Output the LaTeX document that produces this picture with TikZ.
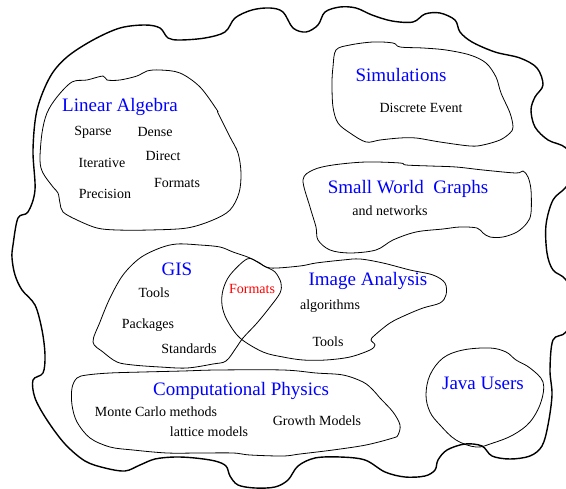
\documentclass[tikz,border=0pt]{standalone}
\usepackage{fontspec}
\setmainfont{Liberation Serif}
\begin{document}
\begin{tikzpicture}[x=1pt,y=-1pt,
	title/.style = {text=blue, inner sep=0pt, font=\fontsize{19}{22}\selectfont},
	item/.style = {text=black, inner sep=0pt, font=\fontsize{14}{17}\selectfont},
	shared/.style = {text=red, inner sep=0pt, font=\fontsize{14}{17}\selectfont},
	outer/.style = {line width=1.4pt, line join=round},
	group/.style = {line width=0.8pt, line join=round}]
	\useasboundingbox (0,0) rectangle (566,489);
	\clip (0,0) rectangle (566,489);
	% the whole area
	\draw[outer] plot[smooth cycle, tension=0.55] coordinates {
		(13,245) (18,218) (28,212) (35,190) (33,150) (37,110) (50,77) (67,57) (93,40)
		(120,28) (145,25) (160,28) (168,38) (180,40) (205,38) (225,32) (235,18) (252,10)
		(270,8) (283,12) (293,28) (306,32) (318,25) (325,12) (340,7) (356,8) (372,15)
		(392,21) (413,22) (425,14) (440,13) (455,20) (460,32) (472,42) (495,52) (520,58)
		(537,68) (543,85) (535,97) (531,110) (535,127) (548,140) (566,148) (576,168)
		(566,187) (553,200) (546,225) (547,253) (553,270) (566,280) (576,306) (566,332)
		(553,340) (550,370) (552,395) (548,425) (542,446) (530,456) (510,459) (492,456)
		(482,446) (465,444) (447,450) (438,460) (435,470) (425,476) (405,477) (385,472)
		(365,460) (340,457) (315,458) (298,466) (288,480) (275,487) (255,488) (238,485)
		(230,476) (226,466) (215,461) (195,458) (175,457) (155,459) (140,465) (125,471)
		(105,468) (85,461) (65,444) (47,420) (35,398) (33,380) (43,373) (45,355) (42,330)
		(35,305) (22,290) (15,275) (12,258)};
	% groups
	\draw[group] plot[smooth cycle, tension=0.55] coordinates {
		(72,82) (87,80) (103,76) (107,80) (120,80) (137,76) (147,71) (160,70) (180,73)
		(200,87) (217,110) (218,113) (230,137) (238,153) (241,173) (239,193) (230,210)
		(213,220) (187,228) (150,230) (117,230) (97,228) (77,220) (63,212) (60,203)
		(58,193) (53,187) (43,173) (40,160) (42,133) (47,113) (57,97)};
	\draw[group] plot[smooth cycle, tension=0.55] coordinates {
		(336,50) (350,45) (373,42) (393,43) (400,47) (423,48) (446,50) (470,55) (486,63)
		(496,77) (501,93) (510,113) (513,127) (510,133) (500,140) (483,145) (470,146)
		(440,142) (416,138) (400,138) (380,140) (366,142) (350,133) (338,123) (333,107)
		(332,83) (333,67)};
	\draw[group] plot[smooth cycle, tension=0.55] coordinates {
		(303,180) (313,170) (333,165) (366,162) (400,163) (406,165) (430,166) (456,167)
		(483,170) (516,173) (523,171) (528,177) (531,190) (531,213) (527,223) (517,232)
		(503,237) (490,237) (483,233) (477,228) (460,227) (443,229) (416,232) (393,240)
		(376,250) (350,253) (330,250) (318,240) (316,227) (310,207)};
	\draw[group] plot[smooth cycle, tension=0.55] coordinates {
		(93,342) (100,322) (110,298) (123,275) (140,258) (160,248) (177,244) (200,245)
		(220,247) (233,252) (250,258) (264,266) (275,272) (281,283) (280,293) (270,307)
		(257,323) (243,338) (236,348) (226,361) (213,364) (187,368) (160,367) (133,365)
		(117,362) (103,352)};
	\draw[group] plot[smooth cycle, tension=0.55] coordinates {
		(247,259) (258,262) (270,268) (300,266) (316,263) (343,260) (360,259) (383,263)
		(410,270) (433,275) (445,283) (446,295) (440,303) (423,308) (406,315) (390,323)
		(375,335) (371,340) (375,345) (370,350) (350,357) (326,360) (303,360) (283,357)
		(263,352) (240,338) (227,320) (222,305) (223,290) (230,275)};
	\draw[group] plot[smooth cycle, tension=0.55] coordinates {
		(72,388) (77,378) (87,375) (110,373) (143,372) (183,371) (217,370) (283,370)
		(316,373) (343,375) (363,382) (373,390) (380,398) (393,412) (400,425) (398,435)
		(393,438) (366,445) (333,450) (300,454) (283,456) (250,455) (233,453) (200,453)
		(167,453) (133,450) (110,447) (90,438) (77,422) (72,405)};
	\draw[group] plot[smooth cycle, tension=0.6] coordinates {
		(426,395) (430,375) (443,358) (463,350) (490,348) (506,352) (516,360) (530,368)
		(543,382) (541,402) (530,422) (513,435) (493,443) (476,447) (456,440) (440,425)
		(430,412)};
	% labels
	\node (LinAlg)	at (120,107)	[title]	{Linear Algebra};
	\node (Sparse)	at ( 93,132)	[item]	{Sparse};
	\node (Dense)	at (155,132)	[item]	{Dense};
	\node (Iter)	at (102,163)	[item]	{Iterative};
	\node (Direct)	at (163,156)	[item]	{Direct};
	\node (LAFmt)	at (177,183)	[item]	{Formats};
	\node (Prec)	at (105,194)	[item]	{Precision};
	\node (Sim)	at (401,75)	[title]	{Simulations};
	\node (Discr)	at (421,108)	[item]	{Discrete Event};
	\node (SWG)	at (408,189)	[title]	{Small World\ \ Graphs};
	\node (Netw)	at (390,211)	[item]	{and networks};
	\node (GIS)	at (177,269)	[title]	{GIS};
	\node (GISTools)	at (154,293)	[item]	{Tools};
	\node (Pack)	at (148,325)	[item]	{Packages};
	\node (Stds)	at (189,349)	[item]	{Standards};
	\node (Fmt)	at (252,289)	[shared]	{Formats};
	\node (ImgAn)	at (368,281)	[title]	{Image Analysis};
	\node (Algo)	at (330,306)	[item]	{algorithms};
	\node (IATools)	at (328,342)	[item]	{Tools};
	\node (CompPh)	at (241,391)	[title]	{Computational Physics};
	\node (MC)	at (156,412)	[item]	{Monte Carlo methods};
	\node (Latt)	at (209,432)	[item]	{lattice models};
	\node (Growth)	at (317,421)	[item]	{Growth Models};
	\node (Java)	at (483,383)	[title]	{Java Users};
\end{tikzpicture}
\end{document}
